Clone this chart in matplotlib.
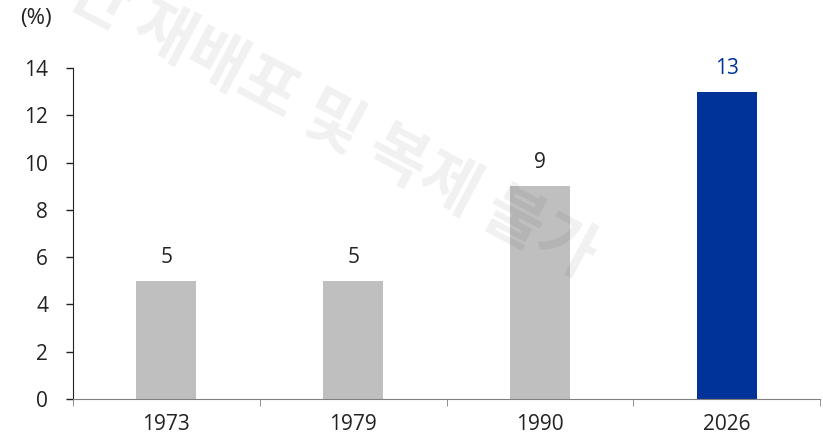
import matplotlib
matplotlib.use('Agg')
import matplotlib.pyplot as plt

years = ['1973', '1979', '1990', '2026']
values = [5, 5, 9, 13]
bar_colors = ['#BFBFBF', '#BFBFBF', '#BFBFBF', '#003399']
label_colors = ['#222222', '#222222', '#222222', '#003399']
yticks = [0, 2, 4, 6, 8, 10, 12, 14]

plt.rcParams['font.family'] = ['Open Sans', 'Noto Sans CJK KR', 'DejaVu Sans']

fig = plt.figure(figsize=(8.23, 4.36), dpi=100)
ax = fig.add_axes([0.0887, 0.0849, 0.9077, 0.7592])

x = list(range(len(years)))
ax.bar(x, values, width=0.32, color=bar_colors, zorder=2)
for xi, v, c in zip(x, values, label_colors):
    ax.text(xi, v + 0.55, str(v), ha='center', va='bottom', fontsize=15,
            color=c, clip_on=False)

ax.set_xlim(-0.5, len(years) - 0.5)
ax.set_ylim(0, 14)
ax.set_yticks(yticks)
ax.set_yticklabels([str(t) for t in yticks], fontsize=15, color='#222222')
ax.set_xticks(x)
ax.set_xticklabels(years, fontsize=15, color='#222222')
ax.tick_params(axis='x', length=0, pad=10.5)
ax.set_xticks([i - 0.5 for i in range(len(years) + 1)], minor=True)
ax.tick_params(axis='x', which='minor', length=5, color='#808080', direction='out')
ax.tick_params(axis='y', length=5, color='#222222', width=1, pad=13)

for s in ['top', 'right']:
    ax.spines[s].set_visible(False)
ax.spines['bottom'].set_color('#808080')
ax.spines['left'].set_color('#222222')

fig.text(0.024, 0.958, '(%)', fontsize=16, color='#222222', va='center', ha='left')

# watermark (cut off at the top-left edge, as in the source)
fig.text(0.373, 0.748, '무단 재배포 및 복제 불가', fontsize=46, fontweight='bold',
         color='black', alpha=0.06, rotation=-28, ha='center', va='center',
         rotation_mode='anchor', family=['Noto Sans CJK KR', 'DejaVu Sans'], zorder=10)

fig.savefig('out.png', dpi=100)
